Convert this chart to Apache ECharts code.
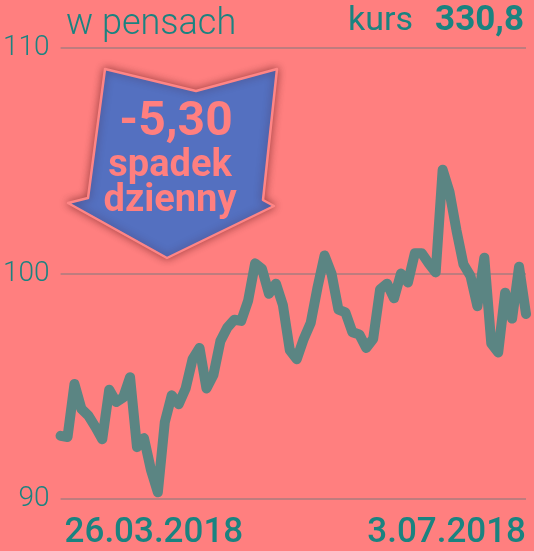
<!DOCTYPE html>
<html>
<head>
<meta charset="utf-8">
<script src="https://cdn.jsdelivr.net/npm/echarts@6/dist/echarts.min.js"></script>
<style>
  html, body { margin: 0; padding: 0; background: #ff7f7f; }
  #chart { width: 534px; height: 551px; }
</style>
</head>
<body>
<div id="chart"></div>
<script>
// notowania dzienne, w pensach
const dates = [
  '26.03.2018', '27.03.2018', '28.03.2018', '29.03.2018',
  '3.04.2018', '4.04.2018', '5.04.2018', '6.04.2018',
  '9.04.2018', '10.04.2018', '11.04.2018', '12.04.2018', '13.04.2018',
  '16.04.2018', '17.04.2018', '18.04.2018', '19.04.2018', '20.04.2018',
  '23.04.2018', '24.04.2018', '25.04.2018', '26.04.2018', '27.04.2018',
  '30.04.2018', '1.05.2018', '2.05.2018', '3.05.2018', '4.05.2018',
  '8.05.2018', '9.05.2018', '10.05.2018', '11.05.2018',
  '14.05.2018', '15.05.2018', '16.05.2018', '17.05.2018', '18.05.2018',
  '21.05.2018', '22.05.2018', '23.05.2018', '24.05.2018', '25.05.2018',
  '29.05.2018', '30.05.2018', '31.05.2018', '1.06.2018',
  '4.06.2018', '5.06.2018', '6.06.2018', '7.06.2018', '8.06.2018',
  '11.06.2018', '12.06.2018', '13.06.2018', '14.06.2018', '15.06.2018',
  '18.06.2018', '19.06.2018', '20.06.2018', '21.06.2018', '22.06.2018',
  '25.06.2018', '26.06.2018', '27.06.2018', '28.06.2018', '29.06.2018',
  '2.07.2018', '3.07.2018'
]

const prices = [
  92.8, 92.75, 95.1, 94.0, 93.7, 93.2, 92.65, 94.85, 94.3, 94.5,
  95.4, 92.3, 92.7, 91.3, 90.3, 93.4, 94.6, 94.2, 94.9, 96.2,
  96.7, 94.9, 95.5, 97.0, 97.6, 97.95, 97.9, 98.8, 100.45, 100.2,
  99.1, 99.55, 98.6, 96.6, 96.2, 97.1, 97.8, 99.4, 100.8, 100.0,
  98.4, 98.28, 97.4, 97.3, 96.7, 97.1, 99.3, 99.55, 98.9, 100.0,
  99.6, 100.9, 100.9, 100.45, 100.05, 104.6, 103.6, 101.9, 100.4, 99.9,
  98.55, 100.7, 96.9, 96.5, 99.15, 98.0, 100.3, 98.2
]

const yTicks = [90, 100, 110]

const unitLabel = 'w pensach'
const rateLabel = 'kurs'
const rateValue = '330,8'
const changeValue = '-5,30'
const changeLines = ['spadek', 'dzienny']

const teal = '#1a8380'
const pink = '#ff7f7f'

const chart = echarts.init(document.getElementById('chart'))

chart.setOption({
  backgroundColor: pink,
  animation: false,
  grid: { left: 60, right: 8, top: 48, bottom: 51 },
  xAxis: {
    type: 'category',
    data: dates,
    boundaryGap: false,
    axisLine: { show: false },
    axisTick: { show: false },
    axisLabel: {
      interval: (i) => i === 0 || i === dates.length - 1,
      alignMinLabel: 'left',
      alignMaxLabel: 'right',
      margin: 17,
      padding: [0, 0, 0, 4],
      color: teal,
      fontFamily: 'Roboto',
      fontWeight: 500,
      fontSize: 35
    }
  },
  yAxis: {
    type: 'value',
    min: yTicks[0],
    max: yTicks[yTicks.length - 1],
    interval: yTicks[1] - yTicks[0],
    axisLine: { show: false },
    axisTick: { show: false },
    axisLabel: {
      margin: 11,
      color: teal,
      fontFamily: 'Roboto',
      fontWeight: 300,
      fontSize: 28
    },
    splitLine: { lineStyle: { color: '#bf7c7e', width: 2 } }
  },
  series: [
    {
      type: 'line',
      data: prices,
      symbol: 'none',
      lineStyle: { color: '#5b8583', width: 10, cap: 'round', join: 'round' },
      z: 3
    }
  ],
  graphic: [
    {
      type: 'text',
      x: 66,
      y: 25,
      style: { text: unitLabel, font: '300 36px Roboto', fill: teal, textVerticalAlign: 'middle' }
    },
    {
      type: 'text',
      x: 413,
      y: 21,
      style: { text: rateLabel, font: '400 34px Roboto', fill: teal, textAlign: 'right', textVerticalAlign: 'middle' }
    },
    {
      type: 'text',
      x: 524,
      y: 21,
      style: { text: rateValue, font: 'bold 35px Roboto', fill: teal, textAlign: 'right', textVerticalAlign: 'middle' }
    },
    {
      type: 'polygon',
      z: 10,
      shape: {
        points: [[105, 69], [196, 91], [277, 69], [263, 200], [274, 206], [167, 258], [68, 203], [88, 198]]
      },
      style: {
        fill: '#5470c0',
        stroke: '#ff8585',
        lineWidth: 2.5,
        lineJoin: 'round',
        shadowBlur: 8,
        shadowColor: 'rgba(60, 0, 0, 0.45)'
      }
    },
    {
      type: 'text',
      z: 11,
      x: 176,
      y: 123,
      style: { text: changeValue, font: 'bold 48px Roboto', fill: pink, textAlign: 'center', textVerticalAlign: 'middle' }
    },
    {
      type: 'text',
      z: 11,
      x: 170,
      y: 166,
      style: { text: changeLines[0], font: 'bold 38px Roboto', fill: pink, textAlign: 'center', textVerticalAlign: 'middle' }
    },
    {
      type: 'text',
      z: 11,
      x: 170,
      y: 201,
      style: { text: changeLines[1], font: 'bold 38px Roboto', fill: pink, textAlign: 'center', textVerticalAlign: 'middle' }
    }
  ]
})
</script>
</body>
</html>
